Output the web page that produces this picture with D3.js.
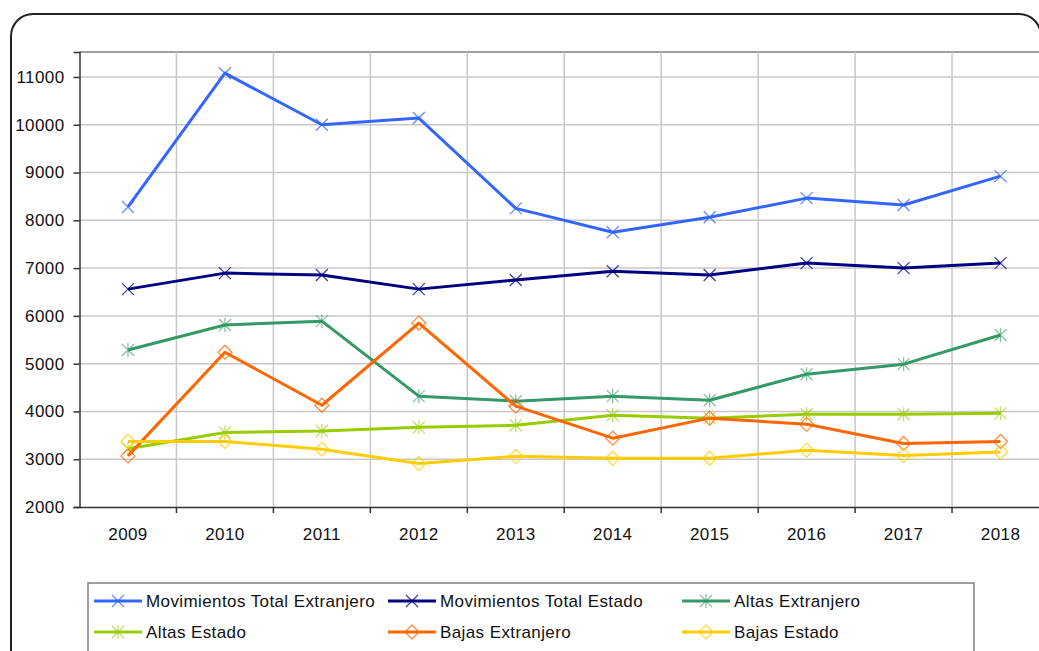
<!DOCTYPE html>
<html><head><meta charset="utf-8">
<script src="https://cdn.jsdelivr.net/npm/d3@7"></script>
<style>body{margin:0;background:#fff;}svg{display:block;font-family:"Liberation Sans",Arial,sans-serif;}</style>
</head><body>
<svg id="c" width="1039" height="651"></svg>
<script>
const years = ["2009","2010","2011","2012","2013","2014","2015","2016","2017","2018"];
const yTicks = [2000,3000,4000,5000,6000,7000,8000,9000,10000,11000];
const movTotalExtranjero = [8280,11080,10000,10140,8250,7750,8065,8465,8320,8925];
const movTotalEstado = [6560,6895,6855,6560,6750,6935,6855,7105,7000,7105];
const altasExtranjero = [5285,5810,5890,4320,4215,4320,4235,4780,4990,5600];
const altasEstado = [3220,3560,3590,3670,3710,3920,3860,3940,3940,3960];
const bajasExtranjero = [3070,5240,4130,5850,4110,3440,3860,3730,3330,3370];
const bajasEstado = [3370,3370,3210,2910,3060,3020,3020,3190,3080,3150];
const seriesNames = ["Movimientos Total Extranjero","Movimientos Total Estado","Altas Extranjero","Altas Estado","Bajas Extranjero","Bajas Estado"];
const seriesColors = ["#3366FF","#000080","#339966","#99CC00","#FF6600","#FFCC00"];
const seriesMarkers = ["x","x","star","star","diamond","diamond"];
const seriesData = [movTotalExtranjero,movTotalEstado,altasExtranjero,altasEstado,bajasExtranjero,bajasEstado];

const svg = d3.select("#c");
// outer border
svg.append("rect").attr("x",11).attr("y",14).attr("width",1030).attr("height",720)
  .attr("rx",22).attr("fill","none").attr("stroke","#222").attr("stroke-width",2);

const L=79.5, T=52, R=1049, B=507;
const x = d3.scaleBand().domain(years).range([L,R]);
const y = d3.scaleLinear().domain([2000,11523]).range([B,T]);

const g = svg.append("g");
// grid
g.selectAll(".hg").data(yTicks.slice(1)).join("line")
  .attr("x1",L).attr("x2",R).attr("y1",d=>y(d)).attr("y2",d=>y(d))
  .attr("stroke","#c8c8c8").attr("stroke-width",1.5);
g.append("line").attr("x1",L).attr("x2",R).attr("y1",T).attr("y2",T).attr("stroke","#808080").attr("stroke-width",1.5);
g.selectAll(".vg").data(years.slice(1)).join("line")
  .attr("x1",d=>x(d)).attr("x2",d=>x(d)).attr("y1",T).attr("y2",B)
  .attr("stroke","#c8c8c8").attr("stroke-width",1.5);

// axes
const yAxis = d3.axisLeft(y).tickValues(yTicks).tickSize(6).tickPadding(9).tickFormat(d3.format("d"));
const ya = svg.append("g").attr("transform",`translate(${L},0)`).call(yAxis);
const xAxis = d3.axisBottom(x).tickSize(0).tickPadding(21);
const xa = svg.append("g").attr("transform",`translate(0,${B})`).call(xAxis);
[ya,xa].forEach(a=>{
  a.select(".domain").attr("stroke","#333").attr("stroke-width",1.5);
  a.selectAll(".tick line").attr("stroke","#333").attr("stroke-width",1.5);
  a.selectAll("text").attr("font-size",17).attr("letter-spacing",0.4).attr("fill","#111").attr("font-family","Liberation Sans, Arial, sans-serif");
});
// x boundary ticks
svg.selectAll(".xb").data(years.slice(1)).join("line")
  .attr("x1",d=>x(d)).attr("x2",d=>x(d)).attr("y1",B).attr("y2",B+6)
  .attr("stroke","#333").attr("stroke-width",1.5);

function drawMarker(sel, type, color){
  const s=6;
  if(type==="x"){
    sel.append("path").attr("d",`M${-s},${-s}L${s},${s}M${-s},${s}L${s},${-s}`)
      .attr("stroke",color).attr("stroke-width",1.3).attr("fill","none").attr("opacity",0.75);
  } else if(type==="star"){
    sel.append("path").attr("d",`M${-s},${-s}L${s},${s}M${-s},${s}L${s},${-s}M0,${-s-1}L0,${s+1}`)
      .attr("stroke",color).attr("stroke-width",1.3).attr("fill","none").attr("opacity",0.6);
  } else {
    sel.append("path").attr("d",`M0,${-s-1}L${s+1},0L0,${s+1}L${-s-1},0Z`)
      .attr("stroke",color).attr("stroke-width",1.3).attr("fill","none").attr("opacity",0.75);
  }
}

const line = d3.line().x((d,i)=>x(years[i])+x.bandwidth()/2).y(d=>y(d));
seriesData.forEach((data,k)=>{
  const sg = svg.append("g");
  sg.append("path").datum(data).attr("d",line).attr("fill","none")
    .attr("stroke",seriesColors[k]).attr("stroke-width",3).attr("stroke-linejoin","round");
  data.forEach((v,i)=>{
    const m = sg.append("g").attr("transform",`translate(${x(years[i])+x.bandwidth()/2},${y(v)})`);
    drawMarker(m, seriesMarkers[k], seriesColors[k]);
  });
});

// legend
svg.append("rect").attr("x",88).attr("y",583).attr("width",886).attr("height",120)
  .attr("fill","#fff").attr("stroke","#808080").attr("stroke-width",1.5);
const colX=[94,388,682], rowY=[601,632];
seriesNames.forEach((n,k)=>{
  const cx=colX[k%3], cy=rowY[Math.floor(k/3)];
  const lg=svg.append("g");
  lg.append("line").attr("x1",cx).attr("x2",cx+48).attr("y1",cy).attr("y2",cy)
    .attr("stroke",seriesColors[k]).attr("stroke-width",3);
  const m=lg.append("g").attr("transform",`translate(${cx+24},${cy})`);
  drawMarker(m, seriesMarkers[k], seriesColors[k]);
  lg.append("text").attr("x",cx+52).attr("y",cy+6).attr("font-size",17).attr("letter-spacing",0.4)
    .attr("fill","#111").text(n);
});
</script>
</body></html>
